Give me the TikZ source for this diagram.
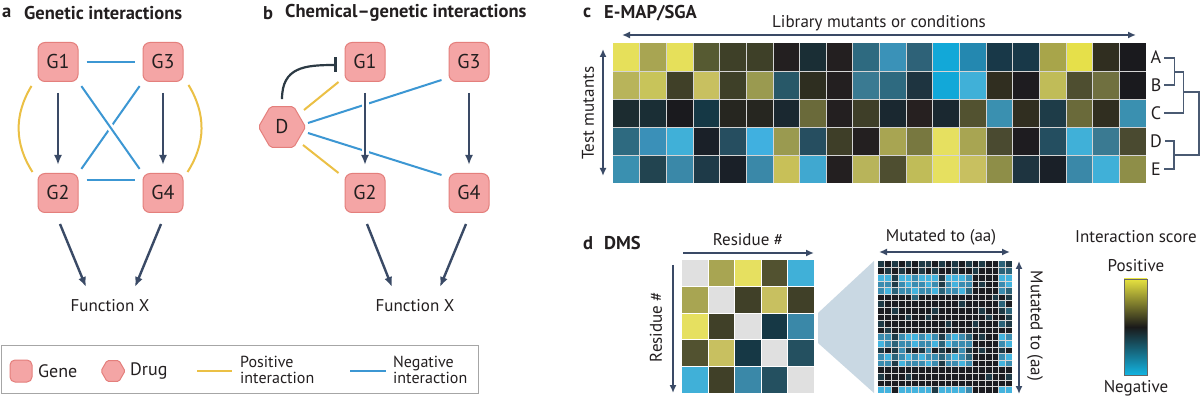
\documentclass[tikz,border=0pt]{standalone}
\usepackage{fontspec}
\setmainfont{PT Sans}
\usetikzlibrary{arrows.meta,shapes.geometric,calc}
\definecolor{ink}{HTML}{231F20}
\definecolor{navy}{HTML}{3A4A66}
\definecolor{posY}{HTML}{EBC045}
\definecolor{negB}{HTML}{3C97D3}
\definecolor{genefill}{HTML}{F4A5A5}
\definecolor{genedraw}{HTML}{E47F7C}
\definecolor{inhib}{HTML}{2C3A44}
\definecolor{proj}{HTML}{C9D8E3}
\definecolor{gridc}{HTML}{D5D5D5}
\definecolor{dendro}{HTML}{4A5A72}
\definecolor{cK}{HTML}{1B1C21}
\definecolor{cT}{HTML}{1E3A46}
\definecolor{cM}{HTML}{2B6379}
\definecolor{cB}{HTML}{3A8CB0}
\definecolor{cC}{HTML}{43B3DE}
\definecolor{cbtop}{HTML}{E6E240}
\definecolor{cbmid}{HTML}{1A1A1A}
\definecolor{cbbot}{HTML}{12B4E2}
\tikzset{
  gene/.style={draw=genedraw, fill=genefill, line width=1pt, rounded corners=7pt,
    minimum width=40pt, minimum height=39pt, inner sep=0pt, text=ink,
    font=\fontsize{20}{20}\selectfont},
  drug/.style={regular polygon, regular polygon sides=6, draw=genedraw, fill=genefill,
    line width=1pt, rounded corners=2pt, minimum size=47pt, inner sep=0pt, text=ink,
    font=\fontsize{20}{20}\selectfont},
  lbl/.style={inner sep=0pt, text=ink, font=\fontsize{17}{17}\selectfont},
  ttl/.style={inner sep=0pt, text=ink, anchor=west, font=\fontsize{18.5}{18.5}\selectfont\bfseries},
  arr/.style={navy, line width=2.4pt, -{Latex[length=10pt,width=8pt]}},
  thinarr/.style={navy, line width=1.8pt, -{Latex[length=8pt,width=7pt]}},
  dblarr/.style={navy, line width=1.8pt, {Latex[length=8pt,width=7pt]}-{Latex[length=8pt,width=7pt]}},
  posl/.style={posY, line width=2pt},
  negl/.style={negB, line width=2pt},
  halo/.style={white, line width=7pt},
  inh/.style={inhib, line width=2.2pt, -{Bar[width=15pt]}},
}
\begin{document}
\begin{tikzpicture}[x=1pt,y=-1pt]
\useasboundingbox (0,0) rectangle (1200,398);
\fill[white] (0,0) rectangle (1200,398);

% ---------------- Panel a
\node[ttl] (ta) at (2,13) {a};
\node[ttl] (ta2) at (24,13) {Genetic interactions};
\node[gene] (a1) at (58,62) {G1};
\node[gene] (a3) at (163,62) {G3};
\node[gene] (a2) at (58,193) {G2};
\node[gene] (a4) at (163,193) {G4};
\node[lbl] (fa) at (110,306) {Function X};
\draw[negl, shorten <=8pt, shorten >=8pt] (a1.east) -- (a3.west);
\draw[negl, shorten <=8pt, shorten >=8pt] ($(a2.east)+(0,-13)$) -- ($(a4.west)+(0,-13)$);
\draw[negl, shorten <=5pt, shorten >=5pt] (a3.south west) -- (a2.north east);
\draw[halo, shorten <=20pt, shorten >=20pt] (a1.south east) -- (a4.north west);
\draw[negl, shorten <=5pt, shorten >=5pt] (a1.south east) -- (a4.north west);
\draw[posl] ($(a1.south west)+(-6,4)$) to[bend right=32] ($(a2.north west)+(-5,-1)$);
\draw[posl] ($(a3.south east)+(5,3)$) to[bend left=32] ($(a4.north east)+(4,-1)$);
\draw[arr, shorten <=11pt, shorten >=8pt] (a1.south) -- (a2.north);
\draw[arr, shorten <=11pt, shorten >=8pt] (a3.south) -- (a4.north);
\draw[arr] ($(a2.south)+(2,11)$) -- ($(fa)+(-24,-19)$);
\draw[arr] ($(a4.south)+(-2,11)$) -- ($(fa)+(25,-19)$);

% ---------------- Panel b
\node[ttl] (tb) at (263,13) {b};
\node[ttl] (tb2) at (285,13) {Chemical–genetic interactions};
\node[gene] (b1) at (365,62) {G1};
\node[gene] (b3) at (469,62) {G3};
\node[gene] (b2) at (365,193) {G2};
\node[gene] (b4) at (469,193) {G4};
\node[drug] (bd) at (282,127) {D};
\node[lbl] (fb) at (415,306) {Function X};
\draw[negl] ($(bd)+(26,-4)$) -- ($(b3.south west)+(-7,-2)$);
\draw[negl] ($(bd)+(26,6)$) -- ($(b4.north west)+(-7,2)$);
\draw[posl] ($(bd)+(22,-17)$) -- ($(b1.south west)+(-6,0)$);
\draw[posl] ($(bd)+(21,18)$) -- ($(b2.north west)+(-6,0)$);
\draw[inh] ($(bd.north)+(0,-7)$) .. controls +(0,-32) and +(-32,0) .. ($(b1.west)+(-8,3)$);
\draw[halo, shorten <=14pt, shorten >=12pt] (b1.south) -- (b2.north);
\draw[arr, shorten <=11pt, shorten >=8pt] (b1.south) -- (b2.north);
\draw[arr, shorten <=11pt, shorten >=8pt] (b3.south) -- (b4.north);
\draw[arr] ($(b2.south)+(2,11)$) -- ($(fb)+(-23,-19)$);
\draw[arr] ($(b4.south)+(-3,11)$) -- ($(fb)+(25,-19)$);

% ---------------- Panel c
\node[ttl] (tc) at (583,13) {c};
\node[ttl] (tc2) at (604,13) {E-MAP/SGA};
\node[lbl] (libl) at (879,23) {Library mutants or conditions};
\coordinate (libL) at (622,35);
\coordinate (libR) at (1136,35);
\draw[dblarr] (libL) -- (libR);
\coordinate (tmT) at (603,49);
\coordinate (tmB) at (603,176);
\draw[dblarr] (tmT) -- (tmB);
\node[lbl, rotate=90] (tml) at (588,113) {Test mutants};
\foreach \rowlist [count=\r from 0] in {
 {E6E05A,A8A552,E6E05A,565A32,3E4028,3E4028,231F20,1A2E35,231F20,2E6A80,3A92B8,2E6278,12A8D8,2488B0,183848,183848,A8A54A,E6E04A,302E20,1A1A1E},
 {B8B45A,C8C45A,404028,C8C060,3E4028,9A9A50,285868,2E2E20,231F20,3A7A92,2E6A80,1E3440,12A8D8,40B0D8,302E20,1E1C20,C0BC58,4E4E30,707040,1A1A1E},
 {1C2C30,1A2E35,1A1A1E,153845,262620,262620,1A2830,6A6A3A,231F20,3E3E28,1A2830,262020,1A2830,525230,3A90B0,302E20,1E3C48,6A6A3A,302E20,3A90B0},
 {2E6A80,3A90B8,40B0D8,1A2028,264E60,40B0E0,9A9A50,264E60,3E3E28,231F20,A8A552,787840,E6E060,A8A552,4A4A30,1E1C20,244E60,40B0D8,3A7A92,4A4A30},
 {3A90B0,224450,3A88A8,1E3A48,1A2028,3A88A8,C8C058,40A8D0,231F20,B8B45A,4E4E30,C0BC58,E6E060,C8C060,8E8E48,1E3440,1A2028,3A88A8,40B0D8,8E8E48}}{
  \foreach \cc [count=\k from 0] in \rowlist {
    \definecolor{tmpc}{HTML}{\cc}
    \fill[tmpc] (613+\k*26.65,43+\r*28) rectangle ++(26.65,28);
  }
}
\foreach \k in {1,...,19} \draw[gridc, line width=0.8pt] (613+\k*26.65,43) -- ++(0,140);
\foreach \r in {1,...,4} \draw[gridc, line width=0.8pt] (613,43+\r*28) -- ++(533,0);
\foreach \L [count=\r from 0] in {A,B,C,D,E}
  \node[lbl, font=\fontsize{18}{18}\selectfont] (row\L) at (1156,57+\r*28) {\L};
\draw[dendro, line width=1.5pt] ($(rowA.east)+(3,1)$) -| ($(rowB.east)+(13,0)$) -- ($(rowB.east)+(3,0)$);
\draw[dendro, line width=1.5pt] ($(rowA.east)+(13,15)$) -| ($(rowC.east)+(22,0)$) -- ($(rowC.east)+(3,0)$);
\draw[dendro, line width=1.5pt] ($(rowD.east)+(3,0)$) -| ($(rowE.east)+(13,0)$) -- ($(rowE.east)+(3,0)$);
\draw[dendro, line width=1.5pt] ($(rowB.east)+(22,7)$) -| ($(rowD.east)+(37,14)$) -- ($(rowD.east)+(13,14)$);

% ---------------- Panel d
\node[ttl] (td) at (583,243) {d};
\node[ttl] (td2) at (604,243) {DMS};
\node[lbl] (resl) at (748,240) {Residue \#};
\coordinate (resL) at (683,253);
\coordinate (resR) at (814,253);
\draw[thinarr] (resL) -- (resR);
\coordinate (resT) at (673,265);
\coordinate (resB) at (673,393);
\draw[thinarr] (resT) -- (resB);
\node[lbl, rotate=90] (resv) at (656,327) {Residue \#};
\foreach \rowlist [count=\r from 0] in {
 {E0E0E0,A8A552,E6E060,525230,40B0D8},
 {A8A552,E0E0E0,404028,C8C060,404028},
 {E6E060,404028,E0E0E0,163845,3A88A8},
 {525230,C8C060,163845,E0E0E0,245060},
 {40B0D8,404028,3A88A8,245060,E0E0E0}}{
  \foreach \cc [count=\k from 0] in \rowlist {
    \definecolor{tmpc}{HTML}{\cc}
    \fill[tmpc] (682+\k*26.4,260+\r*26.6) rectangle ++(26.4,26.6);
  }
}
\foreach \k in {1,...,4} \draw[white, line width=0.8pt] (682+\k*26.4,260) -- ++(0,133);
\foreach \r in {1,...,4} \draw[white, line width=0.8pt] (682,260+\r*26.6) -- ++(132,0);
\fill[proj] (818,313) -- (874,261) -- (874,393) -- (818,343) -- cycle;
\foreach \rowlist [count=\r from 0] in {
 {T,K,T,K,T,K,T,T,K,T,K,T,K,T,K,T,K,K,M,T},
 {K,T,K,T,K,K,T,K,T,K,K,T,K,K,T,K,K,K,M,M},
 {C,C,T,C,C,B,C,C,C,T,C,C,C,B,K,K,K,K,C,C},
 {B,B,T,B,C,B,B,C,B,T,B,C,B,B,K,T,K,K,B,C},
 {B,C,M,B,B,C,B,B,C,M,B,B,C,M,K,K,K,K,B,M},
 {K,K,K,K,K,M,K,K,K,K,K,K,K,K,K,K,K,T,K,T},
 {T,K,K,K,K,K,K,K,K,K,K,K,T,K,K,K,K,K,M,K},
 {K,K,T,K,K,K,K,K,T,K,K,K,K,K,K,T,K,K,T,M},
 {K,K,K,K,T,K,K,T,K,K,K,K,K,K,K,K,T,K,K,T},
 {T,K,K,K,K,K,K,K,K,K,T,K,K,K,T,K,K,K,M,T},
 {K,T,K,K,K,K,K,K,K,K,K,K,K,K,K,K,K,K,K,K},
 {B,B,T,B,C,C,B,C,B,T,B,C,B,M,K,T,K,K,C,B},
 {C,B,M,B,B,C,B,B,C,M,C,B,B,B,K,K,K,K,B,C},
 {T,K,T,B,T,K,T,B,K,T,K,T,B,T,K,T,K,K,T,K},
 {B,C,M,B,C,B,C,B,B,M,B,C,B,M,K,K,K,K,B,C},
 {B,B,T,C,B,B,B,C,B,T,B,B,C,B,K,K,K,K,C,B},
 {K,K,K,K,K,K,K,K,K,K,K,K,K,K,K,K,K,K,K,K},
 {T,K,K,K,T,K,K,K,K,K,K,K,K,K,K,K,T,K,K,T},
 {K,K,K,K,K,K,K,K,K,K,K,K,K,K,K,K,K,K,K,K},
 {C,C,K,C,C,C,C,C,T,C,C,C,C,B,K,K,K,K,C,C}}{
  \foreach \cc [count=\k from 0] in \rowlist {
    \fill[c\cc] (878+\k*6.7,261+\r*6.6) rectangle ++(6.7,6.6);
  }
}
\foreach \k in {1,...,19} \draw[white!70!gray, line width=0.45pt] (878+\k*6.7,261) -- ++(0,132);
\foreach \r in {1,...,19} \draw[white!70!gray, line width=0.45pt] (878,261+\r*6.6) -- ++(134,0);
\node[lbl] (mutl) at (941,237) {Mutated to (aa)};
\coordinate (mutL) at (879,252);
\coordinate (mutR) at (1010,252);
\draw[dblarr] (mutL) -- (mutR);
\coordinate (mutT) at (1019,261);
\coordinate (mutB) at (1019,394);
\draw[dblarr] (mutT) -- (mutB);
\node[lbl, rotate=-90] (mutv) at (1035,326) {Mutated to (aa)};
\node[lbl] (isl) at (1136,237) {Interaction score};
\node[lbl] (posl) at (1136,266) {Positive};
\node[lbl] (negl) at (1136,388) {Negative};
\shade[top color=cbtop, bottom color=cbbot, middle color=cbmid] (1124,279) rectangle (1147,375);
\draw[gray!80!black, line width=0.8pt] (1124,279) rectangle (1147,375);

% ---------------- Legend
\draw[gray!70, line width=1pt] (1,345) rectangle (478,393);
\node[gene, minimum width=22pt, minimum height=22pt, rounded corners=5pt] (lg) at (21,371) {};
\node[lbl, anchor=west, font=\fontsize{18}{18}\selectfont] (lgt) at (38,371) {Gene};
\node[drug, minimum size=24pt, rounded corners=1.5pt] (ld) at (113,371) {};
\node[lbl, anchor=west, font=\fontsize{18}{18}\selectfont] (ldt) at (130,371) {Drug};
\coordinate (lpA) at (197,371);
\coordinate (lpB) at (232,371);
\draw[posl] (lpA) -- (lpB);
\node[lbl, anchor=west, align=left, font=\fontsize{16}{16}\selectfont] (lpt) at (240,370) {Positive\\interaction};
\coordinate (lnA) at (350,371);
\coordinate (lnB) at (386,371);
\draw[negl] (lnA) -- (lnB);
\node[lbl, anchor=west, align=left, font=\fontsize{16}{16}\selectfont] (lnt) at (393,370) {Negative\\interaction};
\end{tikzpicture}
\end{document}
